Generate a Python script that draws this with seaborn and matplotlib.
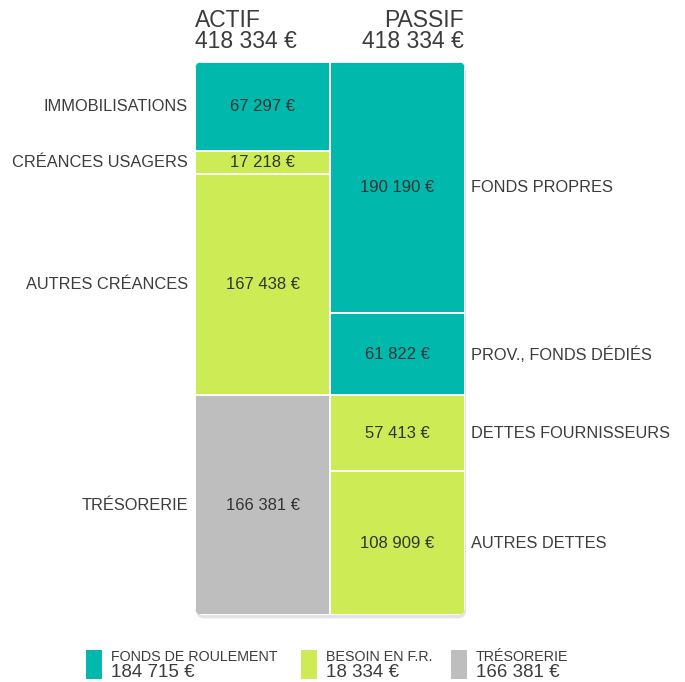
import matplotlib
matplotlib.use("Agg")
import matplotlib.pyplot as plt
from matplotlib.patches import FancyBboxPatch, Rectangle
import seaborn as sns
import pandas as pd

# Bilan: actif / passif
columns = ["ACTIF", "PASSIF"]
actif_labels = ["IMMOBILISATIONS", "CRÉANCES USAGERS", "AUTRES CRÉANCES", "TRÉSORERIE"]
actif_values = [67297, 17218, 167438, 166381]
actif_kinds = ["fr", "bfr", "bfr", "treso"]
passif_labels = ["FONDS PROPRES", "PROV., FONDS DÉDIÉS", "DETTES FOURNISSEURS", "AUTRES DETTES"]
passif_values = [190190, 61822, 57413, 108909]
passif_kinds = ["fr", "fr", "bfr", "bfr"]
total = 418334

legend_labels = ["FONDS DE ROULEMENT", "BESOIN EN F.R.", "TRÉSORERIE"]
legend_values = [184715, 18334, 166381]
legend_kinds = ["fr", "bfr", "treso"]

palette = {"fr": "#00B8AC", "bfr": "#CCEB55", "treso": "#BEBEBE"}
text_col = "#3c3c3c"


def euro(v):
    return f"{v:,}".replace(",", " ") + " €"


sns.set_theme(style="white")
plt.rcParams["font.family"] = ["Liberation Sans", "DejaVu Sans"]

W, H = 685, 682
fig = plt.figure(figsize=(W / 100, H / 100), dpi=100)
left, right, top, bottom = 195, 465, 62, 615
ax = fig.add_axes([left / W, 1 - bottom / H, (right - left) / W, (bottom - top) / H])

# build stacked segments: draw cumulative bars from the largest down
rows = []
for col, labels, values, kinds in [("ACTIF", actif_labels, actif_values, actif_kinds),
                                   ("PASSIF", passif_labels, passif_values, passif_kinds)]:
    cum = 0
    for lab, v, k in zip(labels, values, kinds):
        rows.append({"col": col, "label": lab, "value": v, "kind": k,
                     "start": cum, "cum": cum + v})
        cum += v
df = pd.DataFrame(rows)

aspect = (right - left) / (bottom - top)
# rounded outline used as clip path
clip = FancyBboxPatch((0, 0), 1, 1, boxstyle="round,pad=0,rounding_size=0.03",
                      mutation_aspect=aspect, transform=ax.transAxes,
                      facecolor="none", edgecolor="none")
ax.add_patch(clip)

# soft shadow under the block
shadow = FancyBboxPatch((0.004, -0.006), 1, 1, boxstyle="round,pad=0,rounding_size=0.03",
                        mutation_aspect=aspect, transform=ax.transAxes,
                        facecolor="#e4e4e4", edgecolor="none", zorder=0, clip_on=False)
ax.add_patch(shadow)

for _, r in df.sort_values("cum", ascending=False).iterrows():
    sns.barplot(data=pd.DataFrame([r]), x="col", y="cum", order=columns,
                color=palette[r["kind"]], width=1.0, errorbar=None,
                edgecolor="white", linewidth=1.4, saturation=1, ax=ax)

for p in ax.patches:
    if p is not shadow and p is not clip:
        p.set_clip_path(clip)

ax.set_xlim(-0.5, 1.5)
ax.set_ylim(total, 0)
ax.axis("off")

# values inside segments and labels beside them
for _, r in df.iterrows():
    xi = columns.index(r["col"])
    mid = (r["start"] + r["cum"]) / 2
    ax.text(xi, mid, euro(r["value"]), ha="center", va="center",
            fontsize=12, color="#333333")
    if r["col"] == "ACTIF":
        ax.text(-0.553, mid, r["label"], ha="right", va="center",
                fontsize=11.8, color=text_col)
    else:
        ax.text(1.545, mid, r["label"], ha="left", va="center",
                fontsize=11.8, color=text_col)

# headers
fig.text(195 / W, 1 - 48 / H, "ACTIF\n" + euro(total), ha="left", va="baseline",
         fontsize=16.5, color=text_col, linespacing=0.88, multialignment="left")
fig.text(464 / W, 1 - 48 / H, "PASSIF\n" + euro(total), ha="right", va="baseline",
         fontsize=16.5, color=text_col, linespacing=0.88, multialignment="right")

# legend
leg_x = [86, 301, 451]
for x0, lab, v, k in zip(leg_x, legend_labels, legend_values, legend_kinds):
    fig.patches.append(Rectangle((x0 / W, 1 - 679 / H), 16 / W, 29 / H,
                                 transform=fig.transFigure, facecolor=palette[k],
                                 edgecolor="none"))
    fig.text((x0 + 25) / W, 1 - 661 / H, lab, ha="left", va="baseline",
             fontsize=10.3, color=text_col)
    fig.text((x0 + 25) / W, 1 - 677 / H, euro(v), ha="left", va="baseline",
             fontsize=13.5, color=text_col)

fig.savefig("out.png", dpi=100, facecolor="white")
